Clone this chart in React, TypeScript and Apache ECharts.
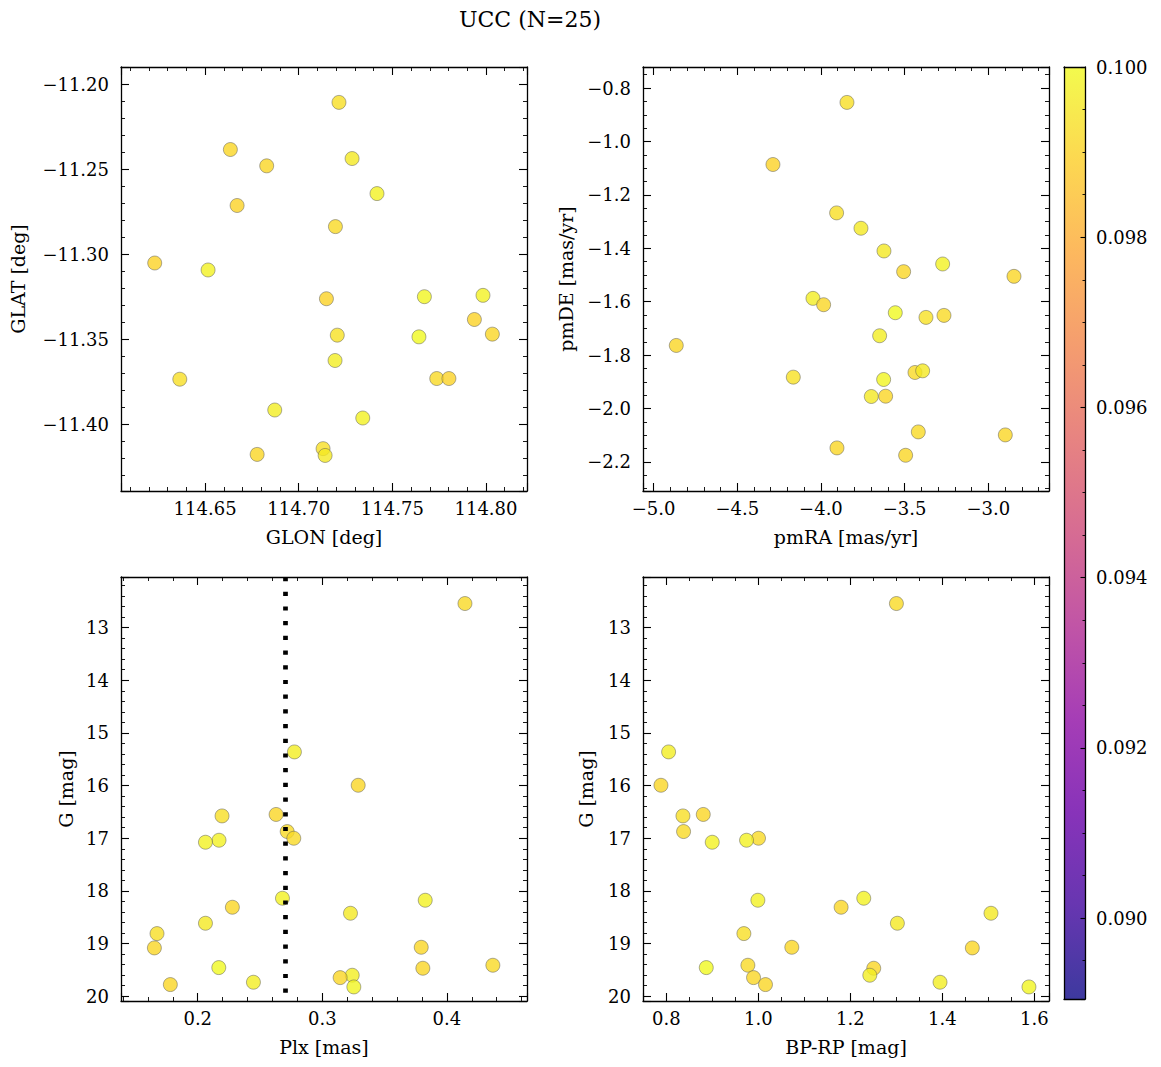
import React, { useEffect, useRef } from "react";
import * as echarts from "echarts";

// ---- Top-left panel: GLON / GLAT ----
const tlGlon = [114.7215, 114.6635, 114.6829, 114.7285, 114.7418, 114.6671, 114.7196, 114.6231, 114.6516, 114.7148, 114.7671, 114.7984, 114.7938, 114.7206, 114.7642, 114.8034, 114.7194, 114.6365, 114.7737, 114.7802, 114.6872, 114.7342, 114.7130, 114.7141, 114.6778];
const tlGlat = [-11.2108, -11.2385, -11.2481, -11.2438, -11.2644, -11.2714, -11.2838, -11.3052, -11.3093, -11.3262, -11.3250, -11.3242, -11.3384, -11.3476, -11.3486, -11.3470, -11.3625, -11.3735, -11.3731, -11.3731, -11.3916, -11.3963, -11.4143, -11.4183, -11.4177];
const tlVal = [0.0993, 0.0991, 0.0991, 0.0996, 0.0998, 0.0990, 0.0992, 0.0990, 0.0998, 0.0990, 0.0999, 0.0998, 0.0990, 0.0994, 0.1000, 0.0991, 0.0997, 0.0993, 0.0992, 0.0990, 0.0997, 0.0998, 0.0993, 0.0996, 0.0991];

// ---- Top-right panel: pmRA / pmDE ----
const trPmra = [-3.8446, -4.2869, -3.9064, -3.7610, -3.6235, -3.2729, -3.5060, -2.8466, -4.0478, -3.9840, -3.5558, -3.3725, -3.2649, -3.6494, -4.8645, -4.1653, -3.4382, -3.3924, -3.6255, -3.6992, -3.6135, -3.4183, -2.8984, -3.9044, -3.4940];
const trPmde = [-0.8538, -1.0863, -1.2675, -1.3250, -1.4100, -1.4588, -1.4875, -1.5050, -1.5875, -1.6113, -1.6413, -1.6588, -1.6513, -1.7275, -1.7638, -1.8825, -1.8650, -1.8588, -1.8913, -1.9550, -1.9538, -2.0875, -2.0988, -2.1475, -2.1750];
const trVal = [0.0993, 0.0990, 0.0993, 0.0996, 0.0996, 0.0998, 0.0991, 0.0991, 0.0997, 0.0991, 0.1000, 0.0994, 0.0992, 0.0997, 0.0991, 0.0994, 0.0992, 0.0996, 0.0999, 0.0996, 0.0991, 0.0992, 0.0991, 0.0991, 0.0991];

// ---- Bottom panels: stars with G, Plx, BP-RP ----
const gMag = [12.544, 15.361, 15.994, 16.548, 16.576, 16.873, 17.0, 17.038, 17.076, 18.139, 18.177, 18.31, 18.424, 18.614, 18.81, 19.07, 19.082, 19.411, 19.456, 19.468, 19.601, 19.646, 19.734, 19.778, 19.823];
const plx = [0.4145, 0.2776, 0.3288, 0.2629, 0.2195, 0.2718, 0.2771, 0.2171, 0.2062, 0.268, 0.3826, 0.2278, 0.3226, 0.2062, 0.1673, 0.3794, 0.1652, 0.4369, 0.2169, 0.3807, 0.324, 0.3143, 0.2447, 0.178, 0.3253];
const bprp = [1.3003, 0.8051, 0.7884, 0.8804, 0.8362, 0.8376, 1.0005, 0.9745, 0.8999, 1.2293, 0.9991, 1.1801, 1.5059, 1.3024, 0.9687, 1.0729, 1.4653, 0.9774, 0.8869, 1.251, 1.2424, 0.9897, 1.3951, 1.0157, 1.5884];
const bVal = [0.0992, 0.0997, 0.0991, 0.0991, 0.0993, 0.0992, 0.0992, 0.0998, 0.0998, 0.0998, 0.0998, 0.0991, 0.0996, 0.0996, 0.0993, 0.0991, 0.0991, 0.0992, 0.1000, 0.0991, 0.0997, 0.0991, 0.0997, 0.0991, 0.0999];

const plxLine = 0.2725;

// axis extents
const glonRange = [114.6051, 114.8219];
const glatRange = [-11.4392, -11.19];
const pmraRange = [-5.0633, -2.6374];
const pmdeRange = [-2.3088, -0.7212];
const plxRange = [0.1384, 0.4643];
const gRange = [12.04, 20.09];
const bprpRange = [0.7494, 1.632];
const cbRange = [0.08905, 0.1];

const plasma = ["#0d0887", "#41049d", "#6a00a8", "#8f0da4", "#b12a90", "#cc4778", "#e16462", "#f2844b", "#fca636", "#fcce25", "#f0f921"];

const FONT = "DejaVu Serif";

function rgba(hex: string, a: number) {
  const r = parseInt(hex.slice(1, 3), 16);
  const g = parseInt(hex.slice(3, 5), 16);
  const b = parseInt(hex.slice(5, 7), 16);
  return `rgba(${r},${g},${b},${a})`;
}

const fmt = (d: number) => (v: number) => v.toFixed(d).replace("-", "\u2212");

function axis(gi: number, range: number[], split: number, minor: number, opts: any) {
  return {
    type: "value",
    gridIndex: gi,
    min: range[0],
    max: range[1],
    splitNumber: split,
    scale: true,
    position: opts.position,
    inverse: !!opts.inverse,
    name: opts.name || "",
    nameLocation: "middle",
    nameGap: opts.nameGap || 0,
    nameTextStyle: { fontFamily: FONT, fontSize: 19, color: "#000" },
    splitLine: { show: false },
    axisLine: { show: true, onZero: false, lineStyle: { color: "#000", width: 1.3 } },
    axisTick: { show: true, inside: true, length: 8, lineStyle: { color: "#000", width: 1.1 } },
    minorTick: { show: true, splitNumber: minor, length: 4, lineStyle: { color: "#000", width: 0.9 } },
    minorSplitLine: { show: false },
    axisLabel: {
      show: !!opts.labels,
      margin: opts.margin || 8,
      fontFamily: FONT,
      fontSize: 18,
      color: "#000",
      formatter: fmt(opts.dec || 0),
      showMinLabel: false,
      showMaxLabel: false,
    },
  };
}

const grids = [
  { left: 121, top: 67, width: 406, height: 424 },
  { left: 643, top: 67, width: 406, height: 424 },
  { left: 121, top: 577, width: 406, height: 424 },
  { left: 643, top: 577, width: 406, height: 424 },
  { left: 1064, top: 67, width: 21, height: 932 },
];

export default function App() {
  const ref = useRef<HTMLDivElement>(null);
  useEffect(() => {
    if (!ref.current) return;
    const chart = echarts.init(ref.current, null, { renderer: "svg" });

    const xAxis: any[] = [
      axis(0, glonRange, 4, 5, { position: "bottom", labels: true, dec: 2, name: "GLON [deg]", nameGap: 36 }),
      axis(0, glonRange, 4, 5, { position: "top" }),
      axis(1, pmraRange, 5, 5, { position: "bottom", labels: true, dec: 1, name: "pmRA [mas/yr]", nameGap: 36 }),
      axis(1, pmraRange, 5, 5, { position: "top" }),
      axis(2, plxRange, 3, 5, { position: "bottom", labels: true, dec: 1, name: "Plx [mas]", nameGap: 36 }),
      axis(2, plxRange, 3, 5, { position: "top" }),
      axis(3, bprpRange, 4, 4, { position: "bottom", labels: true, dec: 1, name: "BP-RP [mag]", nameGap: 36 }),
      axis(3, bprpRange, 4, 4, { position: "top" }),
      { type: "value", gridIndex: 4, min: 0, max: 1, position: "bottom", z: 10, splitLine: { show: false }, axisTick: { show: false }, axisLabel: { show: false }, axisLine: { show: true, onZero: false, lineStyle: { color: "#000", width: 1.3 } } },
      { type: "value", gridIndex: 4, min: 0, max: 1, position: "top", z: 10, splitLine: { show: false }, axisTick: { show: false }, axisLabel: { show: false }, axisLine: { show: true, onZero: false, lineStyle: { color: "#000", width: 1.3 } } },
    ];

    const cbAxis: any = axis(4, cbRange, 5, 4, { position: "right", labels: true, dec: 3, margin: 11 });
    cbAxis.z = 10;
    cbAxis.axisTick.length = 4.5;
    cbAxis.minorTick.length = 2.5;
    cbAxis.axisLabel.showMaxLabel = true;

    const yAxis: any[] = [
      axis(0, glatRange, 5, 5, { position: "left", labels: true, dec: 2, margin: 12, name: "GLAT [deg]", nameGap: 94 }),
      axis(0, glatRange, 5, 5, { position: "right" }),
      axis(1, pmdeRange, 8, 4, { position: "left", labels: true, dec: 1, margin: 12, name: "pmDE [mas/yr]", nameGap: 68 }),
      axis(1, pmdeRange, 8, 4, { position: "right" }),
      axis(2, gRange, 8, 5, { position: "left", inverse: true, labels: true, dec: 0, margin: 12, name: "G [mag]", nameGap: 46 }),
      axis(2, gRange, 8, 5, { position: "right", inverse: true }),
      axis(3, gRange, 8, 5, { position: "left", inverse: true, labels: true, dec: 0, margin: 12, name: "G [mag]", nameGap: 48 }),
      axis(3, gRange, 8, 5, { position: "right", inverse: true }),
      cbAxis,
      { type: "value", gridIndex: 4, min: cbRange[0], max: cbRange[1], position: "left", z: 10, splitLine: { show: false }, axisTick: { show: false }, axisLabel: { show: false }, axisLine: { show: true, onZero: false, lineStyle: { color: "#000", width: 1.3 } } },
    ];

    const scatterStyle = {
      symbolSize: 14,
      itemStyle: { opacity: 0.8, borderColor: "#555", borderWidth: 0.6 },
      emphasis: { disabled: true },
    };

    const gradStops = plasma
      .map((c, i) => ({ offset: 1 - i / (plasma.length - 1), color: rgba(c, 0.8) }))
      .reverse();

    const option: any = {
      animation: false,
      textStyle: { fontFamily: FONT },
      title: {
        text: "UCC (N=25)",
        left: 530,
        top: 8,
        textAlign: "center",
        padding: 0,
        textStyle: { fontFamily: FONT, fontSize: 22, fontWeight: "normal", color: "#000" },
      },
      grid: grids.map((g) => ({ ...g, outerBoundsMode: "none", containLabel: false })),
      xAxis,
      yAxis,
      visualMap: {
        type: "continuous",
        show: false,
        dimension: 2,
        min: cbRange[0],
        max: cbRange[1],
        seriesIndex: [0, 1, 2, 3],
        inRange: { color: plasma },
      },
      series: [
        { type: "scatter", xAxisIndex: 0, yAxisIndex: 0, data: tlGlon.map((x, i) => [x, tlGlat[i], tlVal[i]]), ...scatterStyle },
        { type: "scatter", xAxisIndex: 2, yAxisIndex: 2, data: trPmra.map((x, i) => [x, trPmde[i], trVal[i]]), ...scatterStyle },
        {
          type: "scatter",
          xAxisIndex: 4,
          yAxisIndex: 4,
          data: plx.map((x, i) => [x, gMag[i], bVal[i]]),
          ...scatterStyle,
          markLine: {
            silent: true,
            symbol: ["none", "none"],
            label: { show: false },
            lineStyle: { color: "#000", width: 4.7, type: [4.2, 10.5], opacity: 1 },
            emphasis: { disabled: true },
            data: [{ xAxis: plxLine }],
          },
        },
        { type: "scatter", xAxisIndex: 6, yAxisIndex: 6, data: bprp.map((x, i) => [x, gMag[i], bVal[i]]), ...scatterStyle },
        {
          type: "custom",
          xAxisIndex: 8,
          yAxisIndex: 8,
          data: [[0, cbRange[0]]],
          renderItem: (params: any, api: any) => {
            const p1 = api.coord([0, cbRange[1]]);
            const p2 = api.coord([1, cbRange[0]]);
            return {
              type: "rect",
              shape: { x: p1[0], y: p1[1], width: p2[0] - p1[0], height: p2[1] - p1[1] },
              style: { fill: new echarts.graphic.LinearGradient(0, 0, 0, 1, gradStops) },
            };
          },
        },
      ],
    };
    chart.setOption(option);
    return () => chart.dispose();
  }, []);

  return (
    <div
      ref={ref}
      style={{ position: "fixed", left: 0, top: 0, width: 1161, height: 1067, background: "#fff" }}
    />
  );
}
